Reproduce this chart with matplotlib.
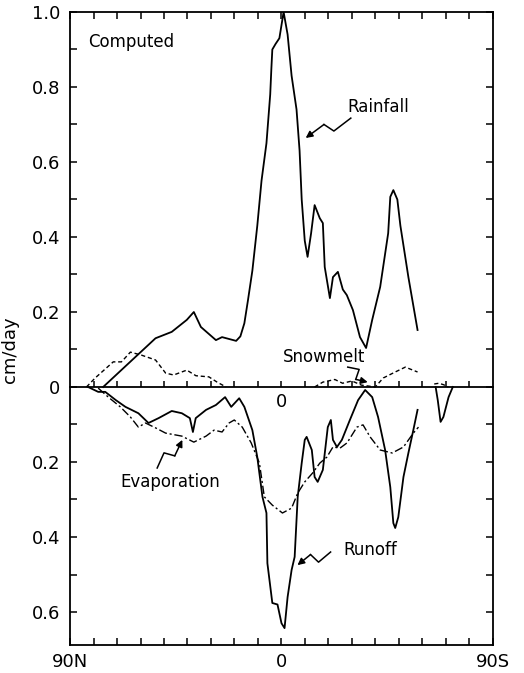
import numpy as np
import matplotlib.pyplot as plt

# latitude runs from 90N (+90) to 90S (-90); nan splits a curve into pieces
rain_lat = [75.9, 53.6, 46.7, 40.3, 37.3, 34.3, 27.9, 25.3, 19.3, 17.5, 15.8, 14.3,
            12.4, 10.3, 8.5, 6.4, 4.8, 4.3, 3.9, 2.5, 0.9, -0.9, -2.6, -4.3, -6.4,
            -7.7, -8.6, -9.9, -11.1, -12.6, -14.1, -16.3, -17.6, -18.4, -20.6, -21.9,
            -24.0, -26.1, -27.8, -30.4, -33.4, -36.0, -38.6, -42.0, -45.4, -46.3,
            -47.6, -49.3, -50.6, -54.0, -57.9]
rainfall = [0.0, 0.13, 0.147, 0.179, 0.2, 0.16, 0.125, 0.133, 0.123, 0.135, 0.17, 0.23,
            0.31, 0.43, 0.55, 0.65, 0.78, 0.85, 0.9, 0.915, 0.93, 1.0, 0.94, 0.83, 0.74,
            0.63, 0.5, 0.39, 0.347, 0.41, 0.485, 0.45, 0.437, 0.32, 0.237, 0.293,
            0.307, 0.26, 0.245, 0.205, 0.133, 0.104, 0.179, 0.267, 0.41, 0.507,
            0.525, 0.5, 0.43, 0.293, 0.152]

snow_lat = [83.0, 79.3, 71.6, 68.1, 64.3, 59.6, 53.6, 49.3, 45.9, 40.3, 36.4, 30.9,
            27.4, 23.6, np.nan,
            -14.1, -17.6, -22.7, -26.0, -30.0, -34.0, -39.9, -43.3, -48.4, -52.7,
            -57.9, np.nan,
            -65.0, -67.0, -69.0, -71.0]
snowmelt = [0.0, 0.024, 0.067, 0.067, 0.093, 0.085, 0.072, 0.037, 0.032, 0.045, 0.03,
            0.027, 0.013, 0.0, np.nan,
            0.0, 0.013, 0.02, 0.01, 0.016, 0.005, 0.0, 0.024, 0.04, 0.053, 0.04, np.nan,
            0.008, 0.01, 0.006, 0.0]

runoff_lat = [82.3, 78.0, 75.0, 70.5, 66.4, 60.9, 56.6, 52.3, 46.7, 42.4, 39.0, 37.7,
              36.5, 32.1, 27.9, 24.0, 21.4, 18.0, 15.8, 12.4, 10.3, 8.1, 6.4, 6.0, 3.9,
              1.7, 0.0, -1.3, -2.6, -4.3, -5.6, -6.9, -8.6, -9.9, -10.7, -12.9, -14.1,
              -15.4, -17.6, -19.7, -21.0, -21.9, -23.6, -25.7, -29.1, -32.6, -35.6,
              -38.6, -41.1, -44.1, -46.3, -47.6, -48.4, -49.7, -51.9, -54.0, -56.1,
              -57.9, np.nan,
              -65.6, -66.5, -67.7, -68.9, -71.1, -72.9]
runoff = [0.0, 0.013, 0.013, 0.035, 0.053, 0.07, 0.096, 0.083, 0.064, 0.07, 0.083, 0.12,
          0.083, 0.061, 0.048, 0.027, 0.053, 0.03, 0.053, 0.115, 0.187, 0.293, 0.336,
          0.47, 0.576, 0.58, 0.63, 0.643, 0.56, 0.488, 0.453, 0.293, 0.203, 0.141,
          0.133, 0.168, 0.24, 0.253, 0.221, 0.107, 0.088, 0.141, 0.16, 0.141, 0.088,
          0.035, 0.008, 0.027, 0.08, 0.168, 0.267, 0.363, 0.376, 0.347, 0.24, 0.176,
          0.115, 0.061, np.nan,
          0.0, 0.035, 0.093, 0.08, 0.027, 0.0]

evap_lat = [78.0, 73.7, 68.6, 64.3, 60.9, 57.9, 53.6, 49.3, 42.4, 37.3, 32.1, 28.7,
            25.3, 22.3, 20.1, 16.7, 12.9, 9.4, 7.3, 3.9, -0.4, -4.3, -6.9, -9.9, -13.3,
            -16.3, -19.3, -21.9, -24.9, -27.9, -32.1, -34.7, -37.7, -42.0, -47.1,
            -51.9, -56.1, -58.3]
evaporation = [0.003, 0.027, 0.053, 0.08, 0.107, 0.096, 0.109, 0.123, 0.131, 0.147,
               0.131, 0.115, 0.12, 0.096, 0.088, 0.107, 0.149, 0.203, 0.293, 0.315,
               0.336, 0.323, 0.283, 0.253, 0.229, 0.203, 0.187, 0.16, 0.163, 0.149,
               0.107, 0.101, 0.133, 0.168, 0.176, 0.16, 0.123, 0.107]

x_ticks = [90, 0, -90]
x_labels = ['90N', '0', '90S']
y_ticks = [-0.6, -0.4, -0.2, 0.0, 0.2, 0.4, 0.6, 0.8, 1.0]
y_labels = ['0.6', '0.4', '0.2', '0', '0.2', '0.4', '0.6', '0.8', '1.0']

plt.rcParams['font.family'] = ['DejaVu Sans']

fig = plt.figure(figsize=(5.24, 6.73), dpi=100)
ax = fig.add_axes([0.1336, 0.0416, 0.8072, 0.9406])
ymin, ymax = -0.688, 1.0
ax.set_xlim(90, -90)
ax.set_ylim(ymin, ymax)

lw = 1.3
ax.plot(rain_lat, rainfall, color='black', lw=lw)
ax.plot(snow_lat, snowmelt, color='black', lw=1.0, ls=(0, (3, 2)))
# water leaving the surface is drawn downward from the zero line
ax.plot(runoff_lat, -np.asarray(runoff), color='black', lw=lw)
ax.plot(evap_lat, -np.asarray(evaporation), color='black', lw=1.0,
        ls=(0, (6, 2, 1.5, 2)))

for s in ax.spines.values():
    s.set_linewidth(1.3)

ax.set_xticks(x_ticks, x_labels)
ax.set_xticks(np.arange(-80, 90, 10), minor=True)
ax.set_yticks(y_ticks, y_labels)
ax.set_yticks(np.arange(-0.6, 1.01, 0.1), minor=True)
ax.tick_params(which='both', direction='in', length=5, width=1.1,
               top=True, right=True, labelsize=13)
ax.tick_params(axis='x', pad=6)
ax.tick_params(axis='y', pad=7)

ax.set_ylabel('cm/day', fontsize=13)
ax.yaxis.set_label_coords(-0.12, 0.466)

# zero line with its own latitude ticks
zero = ax.secondary_xaxis((0 - ymin) / (ymax - ymin))
zero_ticks = np.arange(-80, 90, 10)
zero.set_xticks(zero_ticks, ['0' if t == 0 else '' for t in zero_ticks])
zero.tick_params(direction='in', length=4, width=1.1, labelsize=13, pad=4)
zero.spines['bottom'].set_linewidth(1.3)
zero.spines['top'].set_linewidth(1.3)


def bolt(start, tip):
    # zig-zag pointer ending in an arrow head
    p0 = ax.transData.transform(start)
    p1 = ax.transData.transform(tip)
    d = p1 - p0
    n = np.array([-d[1], d[0]]) / np.hypot(*d)
    a = p0 + 0.42 * d + 5 * n
    b = p0 + 0.55 * d - 5 * n
    pts = ax.transData.inverted().transform([p0, a, b])
    ax.plot(pts[:, 0], pts[:, 1], color='black', lw=1.1)
    ax.annotate('', xy=tip, xytext=pts[2],
                arrowprops=dict(arrowstyle='-|>', color='black', lw=1.1,
                                mutation_scale=10, shrinkA=0, shrinkB=0))


ax.text(82.3, 0.92, 'Computed', fontsize=12, va='center', ha='left')
ax.text(-28.2, 0.747, 'Rainfall', fontsize=12, va='center', ha='left')
bolt((-29.5, 0.717), (-10.3, 0.664))
ax.text(-0.4, 0.08, 'Snowmelt', fontsize=12, va='center', ha='left')
bolt((-28.2, 0.053), (-36.7, 0.013))
ax.text(68.7, -0.253, 'Evaporation', fontsize=12, va='center', ha='left')
bolt((52.9, -0.216), (42.2, -0.141))
ax.text(-26.5, -0.435, 'Runoff', fontsize=12, va='center', ha='left')
bolt((-20.9, -0.44), (-6.8, -0.475))

fig.savefig('out.png', dpi=100)
